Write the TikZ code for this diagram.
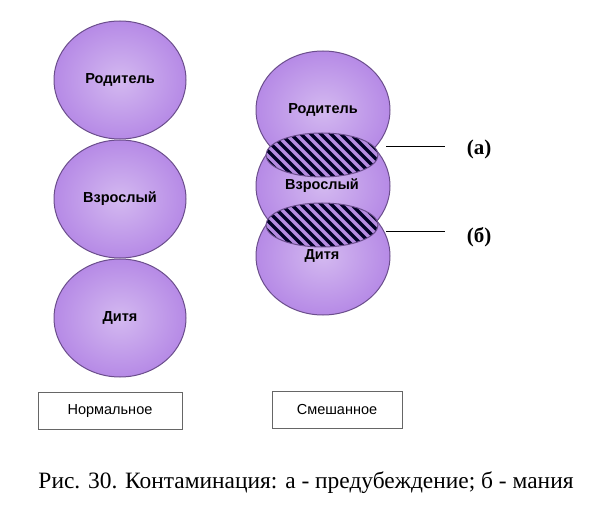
\documentclass[tikz,border=0pt]{standalone}
\usepackage{fontspec}
\usepackage{graphicx}
\setmainfont{Liberation Serif}
\setsansfont{Liberation Sans}
\usetikzlibrary{shapes.geometric}
\begin{document}
\begin{tikzpicture}[x=1pt,y=-1pt,
  ball/.style={ellipse,minimum width=132pt,minimum height=118pt,draw=edge,line width=1pt,inner color=white!40!lav,outer color=lav,font=\sffamily\bfseries\fontsize{14.5}{16}\selectfont},
  lbl/.style={draw=gray!80!black,line width=1pt,minimum width=144pt,minimum height=37pt,font=\sffamily\fontsize{14.5}{16}\selectfont},
  lead/.style={line width=1pt}]
\definecolor{lav}{HTML}{B68AE6}
\definecolor{edge}{HTML}{6B4E8C}
\definecolor{hatch}{HTML}{B58BE0}
\useasboundingbox (0,0) rectangle (600,505);
\node[ball] (p1) at (120,80) {Родитель};
\node[ball] (v1) at (120,199) {Взрослый};
\node[ball] (d1) at (120,318) {Дитя};
\node[ball,minimum width=134pt] (d2) at (323,256) {};
\node[ball,minimum width=134pt] (v2) at (323,186) {};
\node[ball,minimum width=134pt] (p2) at (323,110) {Родитель};
\node[font=\sffamily\bfseries\fontsize{14.5}{16}\selectfont] (tv) at (322,186) {Взрослый};
\node[font=\sffamily\bfseries\fontsize{14.5}{16}\selectfont] (td) at (322,256) {Дитя};
\foreach \cy in {155,225}{
  \begin{scope}
  \clip (322,\cy) ellipse [x radius=56, y radius=22];
  \fill[hatch] (260,\cy-30) rectangle (390,\cy+30);
  \foreach \k in {-90,-80,...,90}
    \draw[line width=3.4pt,black!85!blue] (322+\k-30,\cy-30) -- (322+\k+30,\cy+30);
  \end{scope}
  \draw[edge,line width=1pt] (322,\cy) ellipse [x radius=56, y radius=22];
}
\coordinate (ae) at (386,147);
\coordinate (be) at (386,232);
\coordinate (ae2) at (445,147);
\coordinate (be2) at (445,232);
\node[font=\bfseries\fontsize{21}{23}\selectfont] (la) at (479,149) {(а)};
\node[font=\bfseries\fontsize{21}{23}\selectfont] (lb) at (479,237) {(б)};
\draw[lead] (ae) -- (ae2);
\draw[lead] (be) -- (be2);
\node[lbl] (n) at (110,411) {Нормальное};
\node[lbl,minimum width=130pt] (s) at (337,410) {Смешанное};
\node (cap) at (306,483) {\resizebox{535pt}{!}{\fontsize{17.5}{20}\selectfont Рис. 30. Контаминация: а - предубеждение; б - мания}};
\end{tikzpicture}
\end{document}
